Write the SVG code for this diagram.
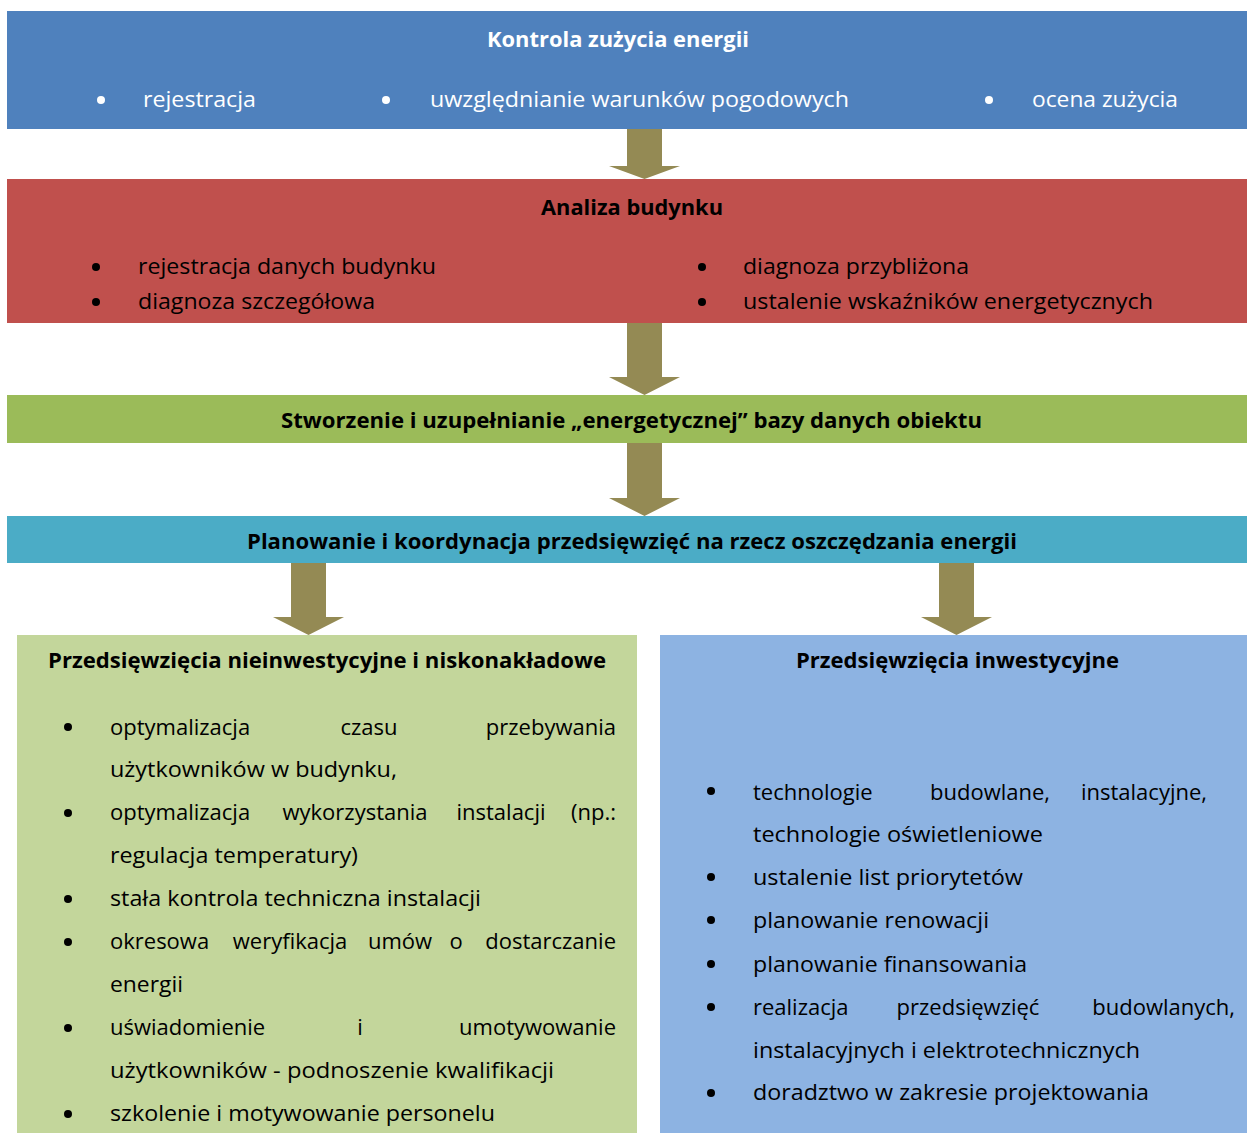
<svg xmlns="http://www.w3.org/2000/svg" width="1247" height="1133" viewBox="0 0 1247 1133">
<style>
text{font-family:"Open Sans","Noto Sans","Liberation Sans",sans-serif;font-size:22px;fill:#000}
.b{font-weight:bold;font-size:21.5px}
.w{fill:#fff}
.c{text-anchor:middle}
.e{text-anchor:end}
.arrow{fill:#948A54}
.dot{fill:#000}
.wd{fill:#fff}
</style>
<rect width="1247" height="1133" fill="#fff"/>
<g id="connectors">
<polygon class="arrow" points="627,129 662,129 662,166 680,166 644.5,179 609,166 627,166"/>
<polygon class="arrow" points="627,323 662,323 662,377 680,377 644.5,395 609,377 627,377"/>
<polygon class="arrow" points="627,443 662,443 662,498 680,498 644.5,516 609,498 627,498"/>
<polygon class="arrow" points="291,563 326,563 326,617 344,617 308.5,635 273,617 291,617"/>
<polygon class="arrow" points="939,563 974,563 974,617 992,617 956.5,635 921,617 939,617"/>
</g>
<g id="node-kontrola">
<rect x="7" y="11" width="1240" height="118" fill="#4F81BD"/>
<text class="b w" x="487" y="47" textLength="262" lengthAdjust="spacingAndGlyphs">Kontrola zużycia energii</text>
<circle class="wd" cx="101" cy="100" r="4"/>
<circle class="wd" cx="386" cy="100" r="4"/>
<circle class="wd" cx="989" cy="100" r="4"/>
<text class="w" x="143" y="107" textLength="113" lengthAdjust="spacingAndGlyphs">rejestracja</text>
<text class="w" x="430" y="107" textLength="419" lengthAdjust="spacingAndGlyphs">uwzględnianie warunków pogodowych</text>
<text class="w" x="1032" y="107" textLength="146" lengthAdjust="spacingAndGlyphs">ocena zużycia</text>
</g>
<g id="node-analiza">
<rect x="7" y="179" width="1240" height="144" fill="#C0504D"/>
<text class="b" x="541" y="215" textLength="182" lengthAdjust="spacingAndGlyphs">Analiza budynku</text>
<circle class="dot" cx="96" cy="267" r="4"/>
<circle class="dot" cx="96" cy="302" r="4"/>
<circle class="dot" cx="702" cy="267" r="4"/>
<circle class="dot" cx="702" cy="302" r="4"/>
<text x="138" y="274" textLength="298" lengthAdjust="spacingAndGlyphs">rejestracja danych budynku</text>
<text x="138" y="309" textLength="237" lengthAdjust="spacingAndGlyphs">diagnoza szczegółowa</text>
<text x="743" y="274" textLength="226" lengthAdjust="spacingAndGlyphs">diagnoza przybliżona</text>
<text x="743" y="309" textLength="410" lengthAdjust="spacingAndGlyphs">ustalenie wskaźników energetycznych</text>
</g>
<g id="node-baza">
<rect x="7" y="395" width="1240" height="48" fill="#9BBB59"/>
<text class="b" x="281" y="428" textLength="701" lengthAdjust="spacingAndGlyphs">Stworzenie i uzupełnianie „energetycznej” bazy danych obiektu</text>
</g>
<g id="node-planowanie">
<rect x="7" y="516" width="1240" height="47" fill="#4BACC6"/>
<text class="b" x="247" y="549" textLength="770" lengthAdjust="spacingAndGlyphs">Planowanie i koordynacja przedsięwzięć na rzecz oszczędzania energii</text>
</g>
<g id="node-nieinwestycyjne">
<rect x="17" y="635" width="620" height="498" fill="#C3D69B"/>
<text class="b" x="48" y="668" textLength="558" lengthAdjust="spacingAndGlyphs">Przedsięwzięcia nieinwestycyjne i niskonakładowe</text>
<circle class="dot" cx="68" cy="727" r="4"/>
<circle class="dot" cx="68" cy="813" r="4"/>
<circle class="dot" cx="68" cy="899" r="4"/>
<circle class="dot" cx="68" cy="942" r="4"/>
<circle class="dot" cx="68" cy="1028" r="4"/>
<circle class="dot" cx="68" cy="1114" r="4"/>
<text y="735"><tspan x="110">optymalizacja</tspan><tspan class="c" x="369">czasu</tspan><tspan class="e" x="616">przebywania</tspan></text>
<text x="110" y="777" textLength="287" lengthAdjust="spacingAndGlyphs">użytkowników w budynku,</text>
<text y="820"><tspan x="110">optymalizacja</tspan><tspan class="c" x="355">wykorzystania</tspan><tspan class="c" x="501">instalacji</tspan><tspan class="e" x="616">(np.:</tspan></text>
<text x="110" y="863" textLength="248" lengthAdjust="spacingAndGlyphs">regulacja temperatury)</text>
<text x="110" y="906" textLength="371" lengthAdjust="spacingAndGlyphs">stała kontrola techniczna instalacji</text>
<text y="949"><tspan x="110">okresowa</tspan><tspan class="c" x="290">weryfikacja</tspan><tspan class="c" x="400">umów</tspan><tspan class="c" x="456">o</tspan><tspan class="e" x="616">dostarczanie</tspan></text>
<text x="110" y="992" textLength="73" lengthAdjust="spacingAndGlyphs">energii</text>
<text y="1035"><tspan x="110">uświadomienie</tspan><tspan class="c" x="360">i</tspan><tspan class="e" x="616">umotywowanie</tspan></text>
<text x="110" y="1078" textLength="444" lengthAdjust="spacingAndGlyphs">użytkowników  - podnoszenie kwalifikacji</text>
<text x="110" y="1121" textLength="385" lengthAdjust="spacingAndGlyphs">szkolenie i motywowanie personelu</text>
</g>
<g id="node-inwestycyjne">
<rect x="660" y="635" width="587" height="498" fill="#8DB3E2"/>
<text class="b" x="796" y="668" textLength="323" lengthAdjust="spacingAndGlyphs">Przedsięwzięcia inwestycyjne</text>
<circle class="dot" cx="711" cy="791" r="4"/>
<circle class="dot" cx="711" cy="877" r="4"/>
<circle class="dot" cx="711" cy="920" r="4"/>
<circle class="dot" cx="711" cy="964" r="4"/>
<circle class="dot" cx="711" cy="1007" r="4"/>
<circle class="dot" cx="711" cy="1093" r="4"/>
<text y="800"><tspan x="753">technologie</tspan><tspan class="c" x="990">budowlane,</tspan><tspan class="e" x="1207">instalacyjne,</tspan></text>
<text x="753" y="842" textLength="290" lengthAdjust="spacingAndGlyphs">technologie oświetleniowe</text>
<text x="753" y="885" textLength="270" lengthAdjust="spacingAndGlyphs">ustalenie list priorytetów</text>
<text x="753" y="928" textLength="236" lengthAdjust="spacingAndGlyphs">planowanie renowacji</text>
<text x="753" y="972" textLength="274" lengthAdjust="spacingAndGlyphs">planowanie finansowania</text>
<text y="1015"><tspan x="753">realizacja</tspan><tspan class="c" x="968">przedsięwzięć</tspan><tspan class="e" x="1235">budowlanych,</tspan></text>
<text x="753" y="1058" textLength="387" lengthAdjust="spacingAndGlyphs">instalacyjnych i elektrotechnicznych</text>
<text x="753" y="1100" textLength="396" lengthAdjust="spacingAndGlyphs">doradztwo w zakresie projektowania</text>
</g>
</svg>
